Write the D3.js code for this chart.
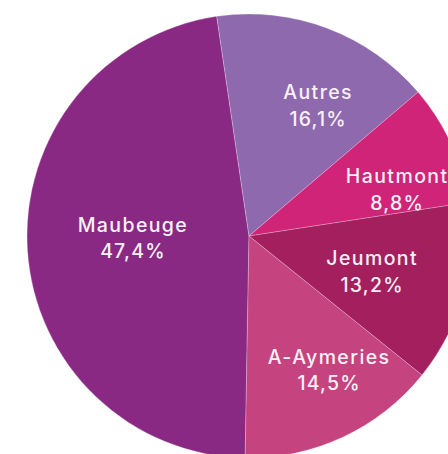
<!DOCTYPE html>
<html>
<head>
<meta charset="utf-8">
<script src="https://cdn.jsdelivr.net/npm/d3@7"></script>
<style>
  html, body { margin: 0; padding: 0; background: #ffffff; }
  svg { display: block; }
</style>
</head>
<body>
<svg id="chart" width="448" height="454"></svg>
<script>
const categories = ["Maubeuge", "Autres", "Hautmont", "Jeumont", "A-Aymeries"];
const shares = [47.4, 16.1, 8.8, 13.2, 14.5];
const shareLabels = ["47,4%", "16,1%", "8,8%", "13,2%", "14,5%"];
const colors = ["#8a2983", "#8f69ae", "#d02479", "#a31f5d", "#c5437f"];

// label placement along the arcs (angle shift in degrees, radius as fraction of R)
const labelAngleShift = [2.8, 7.2, 7.0, 0.9, -5.8];
const labelRadiusFrac = [0.523, 0.667, 0.70, 0.577, 0.703];

const width = 448, height = 454;
const cx = 249, cy = 236, R = 222;
const rot = 1 * Math.PI / 180;

const svg = d3.select("#chart");
const g = svg.append("g").attr("transform", `translate(${cx},${cy})`);

const data = categories.map((c, i) => ({
  name: c, value: shares[i], label: shareLabels[i], color: colors[i],
  shift: labelAngleShift[i], rf: labelRadiusFrac[i]
}));

const pie = d3.pie()
  .value(d => d.value)
  .sort(null)
  .startAngle(Math.PI + rot)
  .endAngle(3 * Math.PI + rot);

const arcs = pie(data);
const arc = d3.arc().innerRadius(0).outerRadius(R);

g.selectAll("path.slice")
  .data(arcs)
  .join("path")
  .attr("class", "slice")
  .attr("d", arc)
  .attr("fill", d => d.data.color)
  .attr("stroke", "rgba(255,255,255,0.3)")
  .attr("stroke-width", 0.8);

const labels = g.selectAll("g.label")
  .data(arcs)
  .join("g")
  .attr("class", "label")
  .attr("transform", d => {
    const s = d.data.shift * Math.PI / 180;
    const la = d3.arc().innerRadius(R * d.data.rf).outerRadius(R * d.data.rf);
    const [x, y] = la.centroid({ startAngle: d.startAngle + s, endAngle: d.endAngle + s });
    return `translate(${x},${y})`;
  });

const font = "Inter, 'Open Sans', 'DejaVu Sans', sans-serif";

labels.append("text")
  .attr("text-anchor", "middle")
  .attr("y", -6)
  .attr("fill", "#f7f0f6")
  .style("font-family", font)
  .style("font-weight", 500)
  .style("font-size", "19.5px")
  .style("letter-spacing", "1.4px")
  .text(d => d.data.name);

labels.append("text")
  .attr("text-anchor", "middle")
  .attr("y", 20.5)
  .attr("fill", "#f7f0f6")
  .style("font-family", font)
  .style("font-weight", 500)
  .style("font-size", "19.5px")
  .style("letter-spacing", "1.2px")
  .text(d => d.data.label);
</script>
</body>
</html>
